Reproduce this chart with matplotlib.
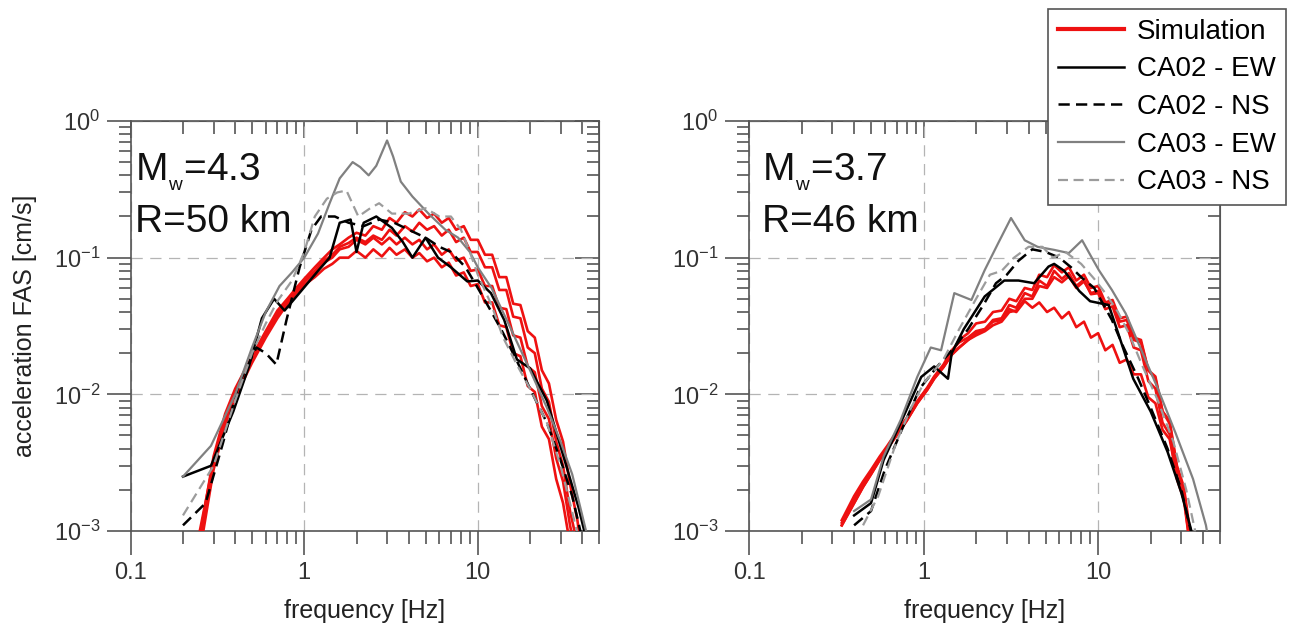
import numpy as np
import matplotlib
matplotlib.use("Agg")
import matplotlib.pyplot as plt
from matplotlib import ticker

plt.rcParams['font.family'] = ['Liberation Sans', 'DejaVu Sans']
plt.rcParams['mathtext.fontset'] = 'custom'
plt.rcParams['mathtext.rm'] = 'Liberation Sans'
plt.rcParams['mathtext.it'] = 'Liberation Sans:italic'

RED = '#ee1111'
GRAY = '#808080'
LGRAY = '#9c9c9c'
AXC = '#555555'

# ---------------- left panel: Mw 4.3, R 50 km ----------------
L_f_sim = [0.25, 0.3, 0.35, 0.4, 0.5, 0.6, 0.7, 0.8, 0.9, 1.0, 1.15, 1.3, 1.45, 1.6, 1.8,
           2.0, 2.25, 2.5, 2.8, 3.1, 3.4, 3.8, 4.2, 4.6, 5.1, 5.6, 6.2, 6.8, 7.5, 8.3,
           9.1, 10, 11, 12.1, 13.3, 14.6, 16, 17.6, 19.4, 21.3, 23.4, 25.7, 28.3, 31, 34,
           37.5, 41]
L_sim1 = [0.0009, 0.0035, 0.0072, 0.011, 0.019, 0.029, 0.041, 0.05, 0.06, 0.07, 0.085, 0.1,
          0.115, 0.125, 0.14, 0.152, 0.145, 0.17, 0.16, 0.195, 0.18, 0.215, 0.2, 0.225, 0.195,
          0.21, 0.18, 0.195, 0.16, 0.17, 0.135, 0.135, 0.105, 0.105, 0.072, 0.072, 0.046, 0.045,
          0.029, 0.026, 0.015, 0.012, 0.0065, 0.0045, 0.0022, 0.0012, 0.0005]
L_sim2 = [0.001, 0.0032, 0.0068, 0.0105, 0.018, 0.028, 0.039, 0.049, 0.058, 0.068, 0.08, 0.095,
          0.105, 0.12, 0.128, 0.14, 0.13, 0.145, 0.135, 0.16, 0.145, 0.17, 0.155, 0.18, 0.16,
          0.17, 0.145, 0.16, 0.13, 0.14, 0.11, 0.11, 0.085, 0.085, 0.058, 0.058, 0.037, 0.036,
          0.022, 0.02, 0.011, 0.0088, 0.0045, 0.003, 0.0014, 0.0008, 0.0003]
L_sim3 = [0.0008, 0.003, 0.0065, 0.01, 0.0175, 0.027, 0.038, 0.048, 0.057, 0.066, 0.078, 0.092,
          0.1, 0.115, 0.12, 0.135, 0.125, 0.14, 0.125, 0.14, 0.125, 0.14, 0.125, 0.135, 0.115,
          0.125, 0.105, 0.115, 0.095, 0.1, 0.08, 0.082, 0.062, 0.062, 0.043, 0.042, 0.027, 0.026,
          0.016, 0.0145, 0.0082, 0.0066, 0.0034, 0.0023, 0.0011, 0.0006, 0.0002]
L_sim4 = [0.0007, 0.0028, 0.006, 0.0095, 0.017, 0.026, 0.036, 0.046, 0.055, 0.063, 0.072, 0.083,
          0.09, 0.1, 0.1, 0.112, 0.1, 0.115, 0.102, 0.118, 0.105, 0.115, 0.1, 0.108, 0.094,
          0.1, 0.085, 0.092, 0.074, 0.078, 0.062, 0.064, 0.047, 0.047, 0.032, 0.031, 0.02, 0.019,
          0.0115, 0.0104, 0.0058, 0.0047, 0.0024, 0.0016, 0.0008, 0.0004, 0.0002]

L_f_ew02 = [0.2, 0.29, 0.39, 0.48, 0.57, 0.67, 0.77, 0.97, 1.2, 1.4, 1.6, 1.85, 2.0, 2.2, 2.6,
            3.2, 3.7, 4.2, 5.0, 5.9, 7.0, 8.7, 10, 11.9, 14.2, 16.8, 20, 25, 31, 38, 44]
L_ew02 = [0.0025, 0.003, 0.0075, 0.016, 0.036, 0.05, 0.041, 0.058, 0.08, 0.1, 0.18, 0.19, 0.11,
          0.18, 0.2, 0.165, 0.13, 0.1, 0.14, 0.1, 0.085, 0.067, 0.068, 0.055, 0.035, 0.018,
          0.0155, 0.009, 0.0036, 0.0015, 0.0007]

L_f_ns02 = [0.2, 0.27, 0.34, 0.42, 0.53, 0.6, 0.69, 0.79, 0.94, 1.1, 1.25, 1.5, 1.8, 2.2, 2.7,
            3.3, 4.0, 5.0, 6.0, 7.0, 8.5, 10, 12, 14, 17, 20, 25, 30, 35, 39, 43]
L_ns02 = [0.0011, 0.0016, 0.0044, 0.012, 0.022, 0.02, 0.0165, 0.035, 0.085, 0.16, 0.2, 0.2,
          0.18, 0.17, 0.19, 0.18, 0.16, 0.14, 0.12, 0.11, 0.085, 0.06, 0.04, 0.028, 0.017, 0.011,
          0.0062, 0.0033, 0.0018, 0.001, 0.0005]

L_f_ew03 = [0.2, 0.29, 0.4, 0.5, 0.6, 0.72, 0.85, 1.0, 1.2, 1.4, 1.6, 1.9, 2.1, 2.35, 2.6, 3.0,
            3.25, 3.6, 4.2, 5.2, 6.5, 7.7, 9, 10, 12, 15, 20, 25, 30, 35, 40, 45]
L_ew03 = [0.0025, 0.0042, 0.01, 0.022, 0.04, 0.062, 0.078, 0.1, 0.15, 0.25, 0.38, 0.5, 0.46,
          0.4, 0.47, 0.72, 0.55, 0.36, 0.28, 0.21, 0.16, 0.14, 0.11, 0.085, 0.06, 0.033, 0.015,
          0.008, 0.0045, 0.0026, 0.0013, 0.0007]

L_f_ns03 = [0.2, 0.3, 0.4, 0.5, 0.6, 0.7, 0.85, 1.0, 1.15, 1.35, 1.55, 1.75, 2.05, 2.4, 2.7,
            3.2, 4.0, 5.0, 6.0, 7.0, 8.0, 9.0, 10, 12, 14, 17, 20, 25, 30, 34, 38]
L_ns03 = [0.0013, 0.003, 0.009, 0.02, 0.033, 0.048, 0.068, 0.11, 0.2, 0.27, 0.3, 0.31, 0.2,
          0.23, 0.25, 0.21, 0.21, 0.23, 0.2, 0.2, 0.16, 0.11, 0.075, 0.045, 0.026, 0.016, 0.011,
          0.0062, 0.003, 0.0016, 0.0009]

# ---------------- right panel: Mw 3.7, R 46 km ----------------
R_f_sim = [0.34, 0.4, 0.45, 0.5, 0.56, 0.62, 0.7, 0.8, 0.92, 1.05, 1.15, 1.3, 1.45, 1.6, 1.8,
           2.0, 2.25, 2.5, 2.8, 3.1, 3.4, 3.8, 4.2, 4.6, 5.1, 5.6, 6.2, 6.8, 7.5, 8.3, 9.1, 10,
           11, 12.1, 13.3, 14.6, 16, 17.6, 19.4, 21.3, 23.4, 25.7, 28.3, 31, 34, 37.5]
R_sim1 = [0.00115, 0.0017, 0.0022, 0.0027, 0.0034, 0.0041, 0.0052, 0.0066, 0.0088, 0.011,
          0.0133, 0.016, 0.02, 0.025, 0.028, 0.033, 0.034, 0.04, 0.041, 0.05, 0.048, 0.06, 0.058,
          0.075, 0.072, 0.088, 0.078, 0.085, 0.068, 0.075, 0.06, 0.062, 0.047, 0.049, 0.036,
          0.037, 0.026, 0.025, 0.015, 0.0135, 0.0075, 0.0064, 0.003, 0.0021, 0.0009, 0.0004]
R_sim2 = [0.0012, 0.0018, 0.0023, 0.0028, 0.0035, 0.0042, 0.0053, 0.0067, 0.0089, 0.0112,
          0.0135, 0.0165, 0.021, 0.024, 0.026, 0.029, 0.03, 0.035, 0.036, 0.045, 0.043, 0.055,
          0.052, 0.068, 0.062, 0.08, 0.07, 0.077, 0.062, 0.069, 0.054, 0.055, 0.042, 0.044,
          0.031, 0.032, 0.022, 0.021, 0.0125, 0.011, 0.0062, 0.0051, 0.0024, 0.0017, 0.0007, 0.0003]
R_sim3 = [0.0011, 0.0016, 0.0021, 0.0026, 0.0033, 0.004, 0.005, 0.0064, 0.0086, 0.0108, 0.013,
          0.0158, 0.0195, 0.022, 0.025, 0.027, 0.029, 0.032, 0.034, 0.04, 0.041, 0.05, 0.05,
          0.062, 0.06, 0.072, 0.066, 0.073, 0.06, 0.067, 0.055, 0.057, 0.045, 0.047, 0.034, 0.035,
          0.025, 0.024, 0.015, 0.013, 0.0075, 0.0061, 0.0029, 0.002, 0.0008, 0.0004]
R_sim4 = [0.0011, 0.0016, 0.0021, 0.0026, 0.0033, 0.004, 0.005, 0.0064, 0.0086, 0.0108, 0.013,
          0.0158, 0.0195, 0.022, 0.025, 0.028, 0.03, 0.034, 0.035, 0.042, 0.04, 0.048, 0.043,
          0.047, 0.04, 0.043, 0.036, 0.04, 0.031, 0.034, 0.026, 0.028, 0.021, 0.023, 0.017,
          0.018, 0.014, 0.014, 0.0095, 0.0086, 0.0055, 0.0047, 0.0025, 0.0018, 0.0007, 0.0003]

R_f_ew02 = [0.4, 0.5, 0.59, 0.74, 0.97, 1.15, 1.38, 1.45, 1.7, 2.24, 2.9, 3.5, 4.3, 5.2, 5.6,
            6.4, 7.8, 9.0, 11.5, 12.8, 15.9, 20, 25, 30, 35]
R_ew02 = [0.0013, 0.0016, 0.0033, 0.0062, 0.0134, 0.016, 0.013, 0.02, 0.03, 0.052, 0.068,
          0.068, 0.065, 0.086, 0.09, 0.08, 0.057, 0.048, 0.045, 0.03, 0.013, 0.0075, 0.0038,
          0.0019, 0.0009]

R_f_ns02 = [0.4, 0.5, 0.6, 0.75, 0.95, 1.2, 1.5, 1.8, 2.2, 2.6, 3.0, 3.5, 4.2, 5.0, 6.0, 7.0,
            8.0, 9.5, 12, 14, 17, 20, 25, 30, 34]
R_ns02 = [0.0011, 0.0014, 0.0028, 0.0055, 0.011, 0.016, 0.022, 0.03, 0.045, 0.065, 0.075,
          0.095, 0.115, 0.11, 0.1, 0.085, 0.072, 0.06, 0.035, 0.022, 0.013, 0.008, 0.004, 0.002,
          0.001]

R_f_ew03 = [0.4, 0.5, 0.59, 0.74, 0.92, 1.1, 1.26, 1.5, 1.88, 2.24, 2.68, 3.17, 3.8, 4.5, 5.6,
            6.8, 8.1, 9.2, 10.1, 12, 14.4, 18, 22, 27.8, 35, 41.5, 44]
R_ew03 = [0.0014, 0.0017, 0.0035, 0.0065, 0.0134, 0.022, 0.021, 0.055, 0.049, 0.081, 0.128,
          0.195, 0.134, 0.12, 0.114, 0.108, 0.134, 0.1, 0.081, 0.058, 0.039, 0.02, 0.011, 0.0052,
          0.0024, 0.0011, 0.0007]

R_f_ns03 = [0.45, 0.55, 0.7, 0.85, 1.0, 1.3, 1.6, 2.0, 2.4, 2.8, 3.3, 4.0, 4.8, 5.5, 6.5, 8.0,
            9.5, 11, 13, 15, 18, 22, 27, 32, 36]
R_ns03 = [0.0011, 0.0018, 0.0045, 0.008, 0.012, 0.018, 0.03, 0.05, 0.075, 0.08, 0.1, 0.12,
          0.12, 0.1, 0.11, 0.09, 0.07, 0.055, 0.04, 0.028, 0.016, 0.009, 0.0045, 0.002, 0.001]

panels = [
    dict(f_sim=L_f_sim, sims=[L_sim1, L_sim2, L_sim3, L_sim4],
         rec=[(L_f_ew02, L_ew02), (L_f_ns02, L_ns02), (L_f_ew03, L_ew03), (L_f_ns03, L_ns03)],
         mw='4.3', r='50', tx=0.009, ylabel=True),
    dict(f_sim=R_f_sim, sims=[R_sim1, R_sim2, R_sim3, R_sim4],
         rec=[(R_f_ew02, R_ew02), (R_f_ns02, R_ns02), (R_f_ew03, R_ew03), (R_f_ns03, R_ns03)],
         mw='3.7', r='46', tx=0.028, ylabel=False),
]

rec_styles = [
    dict(color='black', lw=1.8, ls='-'),
    dict(color='black', lw=1.8, ls=(0, (4.5, 2.5))),
    dict(color=GRAY, lw=1.6, ls='-'),
    dict(color=LGRAY, lw=1.6, ls=(0, (4.5, 2.5))),
]

fig = plt.figure(figsize=(12.97, 6.35), dpi=100)
rects = [[0.1008, 0.1638, 0.3611, 0.6457], [0.5775, 0.1638, 0.3632, 0.6457]]

handles = []
for rect, p in zip(rects, panels):
    ax = fig.add_axes(rect)
    ax.set_xscale('log')
    ax.set_yscale('log')
    ax.set_xlim(0.1, 50)
    ax.set_ylim(1e-3, 1)

    hs = []
    for s in p['sims']:
        h, = ax.plot(p['f_sim'], s, color=RED, lw=1.9, zorder=3)
    hs.append(h)
    for (f, v), st in zip(p['rec'], rec_styles):
        h, = ax.plot(f, v, zorder=4, **st)
        hs.append(h)
    handles = hs

    ax.grid(True, which='major', color='#b4b4b4', lw=0.9, ls=(0, (9, 6)))
    for sp in ax.spines.values():
        sp.set_color(AXC)
        sp.set_linewidth(1.2)

    ax.xaxis.set_major_locator(ticker.LogLocator(base=10))
    ax.xaxis.set_minor_locator(ticker.LogLocator(base=10, subs=range(2, 10)))
    ax.xaxis.set_major_formatter(ticker.FuncFormatter(lambda v, pos: f'{v:g}'))
    ax.xaxis.set_minor_formatter(ticker.NullFormatter())
    ax.yaxis.set_minor_locator(ticker.LogLocator(base=10, subs=range(2, 10)))
    ax.yaxis.set_minor_formatter(ticker.NullFormatter())

    ax.tick_params(which='both', direction='out', color=AXC, width=1.2,
                   labelsize=17, labelcolor='#333333')
    ax.tick_params(which='major', length=17)
    ax.tick_params(which='minor', length=9)
    ax.tick_params(axis='y', pad=5)
    ax.tick_params(axis='x', pad=5)

    # top and right ticks point inward
    top = ax.secondary_xaxis('top')
    top.xaxis.set_major_locator(ticker.LogLocator(base=10))
    top.xaxis.set_minor_locator(ticker.LogLocator(base=10, subs=range(2, 10)))
    top.xaxis.set_major_formatter(ticker.NullFormatter())
    top.xaxis.set_minor_formatter(ticker.NullFormatter())
    top.tick_params(which='both', direction='in', color=AXC, width=1.2)
    top.tick_params(which='major', length=12)
    top.tick_params(which='minor', length=9)
    top.spines['top'].set_color(AXC)

    right = ax.secondary_yaxis('right')
    right.yaxis.set_major_locator(ticker.LogLocator(base=10))
    right.yaxis.set_minor_locator(ticker.LogLocator(base=10, subs=range(2, 10)))
    right.yaxis.set_major_formatter(ticker.NullFormatter())
    right.yaxis.set_minor_formatter(ticker.NullFormatter())
    right.tick_params(which='both', direction='in', color=AXC, width=1.2)
    right.tick_params(which='major', length=17)
    right.tick_params(which='minor', length=9)
    right.spines['right'].set_color(AXC)

    ax.set_xlabel('frequency [Hz]', fontsize=18, color='#222222', labelpad=11)
    if p['ylabel']:
        ax.set_ylabel('acceleration FAS [cm/s]', fontsize=18, color='#222222', labelpad=12)

    ax.text(p['tx'], 0.856, r'M$_{_{\mathregular{w}}}$=' + p['mw'], transform=ax.transAxes,
            fontsize=28, va='baseline', ha='left', color='#111111')
    ax.text(p['tx'], 0.729, 'R=' + p['r'] + ' km', transform=ax.transAxes,
            fontsize=28, va='baseline', ha='left', color='#111111')

labels = ['Simulation', 'CA02 - EW', 'CA02 - NS', 'CA03 - EW', 'CA03 - NS']
leg = fig.legend(handles, labels, loc='upper left', bbox_to_anchor=(1048 / 1297, 1 - 9 / 635),
                 borderaxespad=0, fontsize=20, fancybox=False, framealpha=1,
                 edgecolor=AXC, handlelength=2.4, handletextpad=0.45, borderpad=0.35,
                 labelspacing=0.42)
leg.get_frame().set_linewidth(1.2)
leg.get_lines()[0].set_linewidth(3)

fig.savefig('out.png', dpi=100)
